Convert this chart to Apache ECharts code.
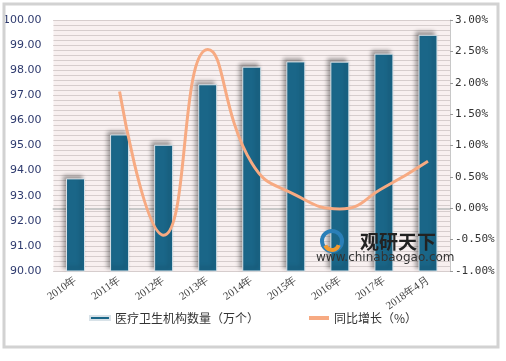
<!DOCTYPE html>
<html><head><meta charset="utf-8">
<script src="https://cdn.jsdelivr.net/npm/echarts@6/dist/echarts.min.js"></script>
<style>html,body{margin:0;padding:0;background:#fff}#c{width:506px;height:361px}</style>
</head><body><div id="c"></div>
<script>
var categories = ['2010年','2011年','2012年','2013年','2014年','2015年','2016年','2017年','2018年4月'];
var institutions = [93.69, 95.44, 95.03, 97.44, 98.14, 98.35, 98.34, 98.66, 99.41];
var growth = [null, 1.86, -0.43, 2.53, 0.72, 0.21, -0.01, 0.33, 0.75];
var barName = '医疗卫生机构数量（万个）';
var lineName = '同比增长（%）';

var chart = echarts.init(document.getElementById('c'));
chart.setOption({
  animation: false,
  backgroundColor: '#fff',
  grid: {left: 52, right: 56, top: 20, bottom: 90, show: true, backgroundColor: '#F8F0F0', borderWidth: 0},
  legend: {
    bottom: 32, left: 'center', itemGap: 50, itemWidth: 20, itemHeight: 4,
    textStyle: {fontSize: 12, color: '#333', fontFamily: 'Noto Sans CJK SC'},
    data: [{name: barName, icon: 'rect'}, {name: lineName, icon: 'rect'}]
  },
  xAxis: {
    type: 'category', data: categories,
    axisLine: {lineStyle: {color: '#C8C8C8', width: 2}},
    axisTick: {show: false},
    splitLine: {show: false},
    axisLabel: {rotate: 35, fontSize: 11, color: '#444', fontFamily: 'Liberation Serif', margin: 8, interval: 0}
  },
  yAxis: [{
    type: 'value', min: 90, max: 100, interval: 1,
    axisLine: {show: false}, axisTick: {show: false},
    axisLabel: {formatter: function(v){return v.toFixed(2);}, fontSize: 11, color: '#2E3A6E', margin: 12, fontFamily: 'DejaVu Sans'},
    splitLine: {lineStyle: {color: '#C4BABA', width: 1}}
  }, {
    type: 'value', min: -1, max: 3, interval: 0.5, position: 'right',
    axisLine: {show: true, lineStyle: {color: '#C8C8C8'}},
    axisTick: {show: true, length: 3, lineStyle: {color: '#999'}},
    axisLabel: {formatter: function(v){return v.toFixed(2) + '%';}, fontSize: 11, color: '#333', margin: 5, fontFamily: 'DejaVu Sans Mono'},
    splitLine: {show: false}
  }, {
    type: 'value', min: 90, max: 100, interval: 0.2, position: 'left',
    axisLine: {show: false}, axisTick: {show: false}, axisLabel: {show: false},
    splitLine: {show: true, lineStyle: {color: '#D6CDCD', width: 1}}
  }],
  series: [{
    name: barName, type: 'bar', data: institutions, barWidth: 19, yAxisIndex: 0,
    itemStyle: {color: '#1A6688', borderColor: '#D8E2E8', borderWidth: 1,
      shadowColor: 'rgba(0,0,0,0.35)', shadowBlur: 4, shadowOffsetX: -3, shadowOffsetY: -3}
  }, {
    name: lineName, type: 'line', data: growth, yAxisIndex: 1, smooth: 0.5,
    symbol: 'none', lineStyle: {color: '#F7AA82', width: 3}, itemStyle: {color: '#F7AA82'}
  }],
  graphic: [
    {type: 'rect', shape: {x: 4, y: 4, width: 494, height: 343}, style: {fill: 'none', stroke: '#D2D2D2', lineWidth: 3}, z: 100},
    {type: 'text', left: 360, top: 232, style: {text: '观研天下', font: 'bold 19px "Noto Sans CJK SC"', fill: '#222'}, z: 100},
    {type: 'text', left: 316, top: 252, style: {text: 'www.chinabaogao.com', font: '12px "DejaVu Sans"', fill: '#333'}, z: 100},
    {type: 'circle', shape: {cx: 332, cy: 241, r: 10}, style: {fill: 'none', stroke: '#2A7FB8', lineWidth: 4}, z: 100},
    {type: 'arc', shape: {cx: 332, cy: 243, r: 7, startAngle: 0.3, endAngle: 2.8}, style: {fill: 'none', stroke: '#F29A2E', lineWidth: 4}, z: 101}
  ]
});
</script></body></html>
